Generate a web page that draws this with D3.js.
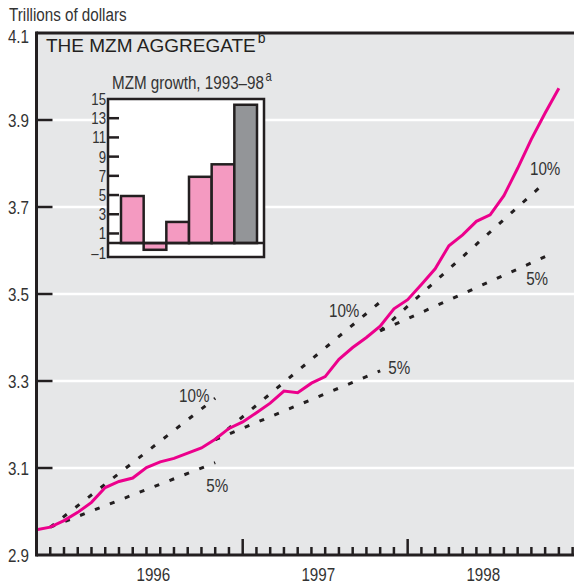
<!DOCTYPE html>
<html>
<head>
<meta charset="utf-8">
<script src="https://cdn.jsdelivr.net/npm/d3@7"></script>
<style>
body { margin: 0; background: #fff; }
svg text { font-family: "Liberation Sans", Arial, sans-serif; fill: #333; }
</style>
</head>
<body>
<svg id="chart" width="574" height="584"></svg>
<script>
// MZM level, trillions of dollars, monthly from Oct 1995
var mzm = [2.958, 2.964, 2.979, 2.998, 3.021, 3.055, 3.069, 3.077, 3.101, 3.114, 3.122, 3.134, 3.146, 3.166, 3.191,
  3.206, 3.227, 3.249, 3.277, 3.273, 3.295, 3.310, 3.350, 3.377, 3.400, 3.426, 3.466,
  3.487, 3.522, 3.558, 3.611, 3.636, 3.667, 3.682, 3.726, 3.789, 3.856, 3.916, 3.973];
var yearLabels = ["1996", "1997", "1998"];
var yearStart = [3, 15, 27];          // month index of each January
var yTicks = [2.9, 3.1, 3.3, 3.5, 3.7, 3.9, 4.1];

// growth cones: start month, base level, rates
var coneMonth = [1, 13, 25];
var coneBase = [2.964, 3.165, 3.415];
var coneRates = [0.10, 0.05];
var rateLabels = ["10%", "5%"];

// inset: MZM growth 1993-98
var growthYears = ["1993", "1994", "1995", "1996", "1997", "1998"];
var growthValues = [4.9, -0.7, 2.2, 6.9, 8.2, 14.4];
var insetTicks = [-1, 1, 3, 5, 7, 9, 11, 13, 15];

var ink = "#231f20";
var svg = d3.select("#chart");

// condensed text: regular face squeezed horizontally
var narrow = function(sel, px, py, size, anchor) {
  return sel.append("text")
    .attr("transform", "translate(" + px + "," + py + ") scale(0.8,1)")
    .attr("font-size", size)
    .attr("text-anchor", anchor || "start");
}

var x = d3.scaleLinear().domain([0, 39.1]).range([36.5, 574]);
var y = d3.scaleLinear().domain([2.9, 4.1]).range([555, 33]);

// plot background
svg.append("rect")
  .attr("x", x(0)).attr("y", y(4.1))
  .attr("width", 574 - x(0)).attr("height", y(2.9) - y(4.1))
  .attr("fill", "#e6e7e8");

// white gridlines
svg.append("g").selectAll("line")
  .data(yTicks.slice(1, -1))
  .enter().append("line")
  .attr("x1", x(0)).attr("x2", 574)
  .attr("y1", function(d) { return y(d); })
  .attr("y2", function(d) { return y(d); })
  .attr("stroke", "#fff").attr("stroke-width", 2.5);

// growth cones
var labelOffsets = [[[-21, 4], [2, 29]], [[-36, 15], [19, 3]], [[0, -7], [-8, 28]]];
coneMonth.forEach(function(m, i) {
  coneRates.forEach(function(r, j) {
    var end = coneBase[i] * (1 + r);
    svg.append("line")
      .attr("x1", x(m)).attr("y1", y(coneBase[i]))
      .attr("x2", x(m + 12)).attr("y2", y(end))
      .attr("stroke", ink).attr("stroke-width", 3)
      .attr("stroke-dasharray", "5,11");
    narrow(svg, x(m + 12) + labelOffsets[i][j][0], y(end) + labelOffsets[i][j][1], 19, "middle")
      .text(rateLabels[j]);
  });
});

// MZM line
var line = d3.line()
  .x(function(d, i) { return x(i); })
  .y(function(d) { return y(d); });
svg.append("path")
  .datum(mzm)
  .attr("d", line)
  .attr("fill", "none")
  .attr("stroke", "#ec008c")
  .attr("stroke-width", 3);

// frame: left axis, top and bottom
svg.append("line").attr("x1", x(0)).attr("x2", 574).attr("y1", y(4.1)).attr("y2", y(4.1))
  .attr("stroke", ink).attr("stroke-width", 3);
svg.append("line").attr("x1", x(0)).attr("x2", 574).attr("y1", y(2.9)).attr("y2", y(2.9))
  .attr("stroke", ink).attr("stroke-width", 3);
svg.append("line").attr("x1", x(0)).attr("x2", x(0)).attr("y1", y(4.1) - 1.5).attr("y2", y(2.9) + 1.5)
  .attr("stroke", ink).attr("stroke-width", 3);

// y ticks and labels
svg.append("g").selectAll("line")
  .data(yTicks.slice(1, -1))
  .enter().append("line")
  .attr("x1", x(0)).attr("x2", x(0) + 16)
  .attr("y1", function(d) { return y(d); })
  .attr("y2", function(d) { return y(d); })
  .attr("stroke", ink).attr("stroke-width", 2.5);
yTicks.forEach(function(d) {
  narrow(svg, 29, y(d) + (d == 4.1 ? 10 : 7), 19, "end").text(d3.format(".1f")(d));
});

narrow(svg, 9, 21, 19).text("Trillions of dollars");

// x ticks, monthly, longer at January
svg.append("g").selectAll("line")
  .data(d3.range(1, 40))
  .enter().append("line")
  .attr("x1", function(d) { return x(d); })
  .attr("x2", function(d) { return x(d); })
  .attr("y1", y(2.9))
  .attr("y2", function(d) { return yearStart.indexOf(d) > 0 ? y(2.9) - 16 : y(2.9) - 8; })
  .attr("stroke", ink).attr("stroke-width", 2.5);
yearLabels.forEach(function(d, i) {
  narrow(svg, x(yearStart[i] + 5.5), 581, 19, "middle").text(d);
});

// title
var title = svg.append("text").attr("x", 46).attr("y", 52)
  .attr("font-size", 19).style("fill", ink);
title.append("tspan").text("THE MZM AGGREGATE");
title.append("tspan").attr("dx", 2).attr("dy", -9).attr("font-size", 14).text("b");

// inset
var ix = d3.scaleBand().domain(growthYears).range([121, 257]);
var iy = d3.scaleLinear().domain([-1.45, 15]).range([257, 99]);

var it = narrow(svg, 112, 89, 19);
it.append("tspan").text("MZM growth, 1993\u201398");
it.append("tspan").attr("dx", 2).attr("dy", -8).attr("font-size", 14).text("a");

svg.append("rect")
  .attr("x", 108).attr("y", iy(15))
  .attr("width", 156).attr("height", iy(-1.45) - iy(15))
  .attr("fill", "#fff").attr("stroke", ink).attr("stroke-width", 2.5);

svg.append("g").selectAll("line")
  .data(insetTicks.filter(function(d) { return d > 0 && d < 15; }))
  .enter().append("line")
  .attr("x1", 108).attr("x2", 119)
  .attr("y1", function(d) { return iy(d); })
  .attr("y2", function(d) { return iy(d); })
  .attr("stroke", ink).attr("stroke-width", 2.5);

insetTicks.forEach(function(d) {
  narrow(svg, 106, iy(d) + 6, 16.5, "end").text(d < 0 ? "\u2013" + Math.abs(d) : d);
});

svg.append("g").selectAll("rect")
  .data(growthValues)
  .enter().append("rect")
  .attr("x", function(d, i) { return ix(growthYears[i]); })
  .attr("y", function(d) { return iy(Math.max(0, d)); })
  .attr("width", ix.bandwidth())
  .attr("height", function(d) { return Math.abs(iy(d) - iy(0)); })
  .attr("fill", function(d, i) { return i == growthValues.length - 1 ? "#939598" : "#f49ac1"; })
  .attr("stroke", ink).attr("stroke-width", 2.5);

svg.append("line")
  .attr("x1", 108).attr("x2", 264).attr("y1", iy(0)).attr("y2", iy(0))
  .attr("stroke", ink).attr("stroke-width", 2.5);
</script>
</body>
</html>
